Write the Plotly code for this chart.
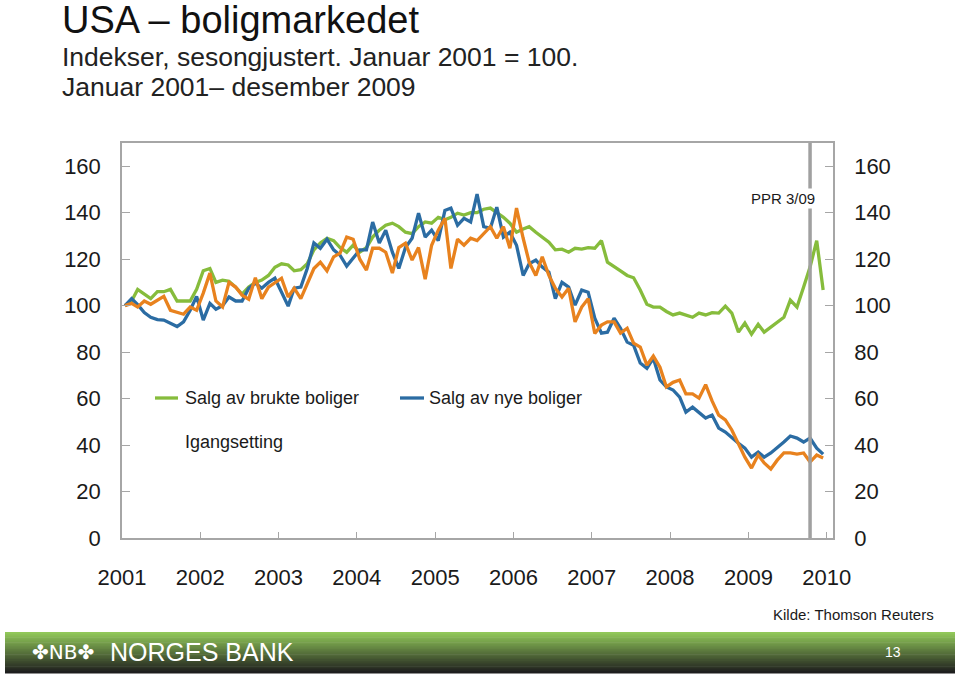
import plotly.graph_objects as go
import pandas as pd

# Monthly data, Jan 2001 - Dec 2009, index Jan 2001 = 100
months = pd.date_range("2001-01-01", periods=108, freq="MS") + pd.Timedelta(days=14)

brukte = [100, 102, 107, 105, 103, 106, 106, 107, 102, 102,
          102, 107, 115, 116, 110, 111, 110.5, 108, 105, 108,
          110, 111, 113, 116.5, 118, 117.5, 115, 115.5, 118, 124,
          127, 129, 128, 125, 123, 126, 123, 125, 129.5, 132.5,
          134.6, 135.5, 134, 131.6, 131, 134, 136, 135.5, 138, 137,
          138, 139.8, 139, 140, 140, 141.5, 142, 140, 138, 135.5,
          131.6, 133, 134, 131.6, 129.5, 127.3, 124, 124.3, 123, 124.7,
          124.3, 125, 124.7, 128, 118.7, 116.6, 115, 113, 112, 106.7,
          100.6, 99.4, 99.4, 97.5, 96, 96.8, 96, 95, 96.8, 96,
          97, 96.8, 99.8, 96.8, 88.6, 92.5, 87.7, 92, 88.6, 90.8,
          92.5, 95, 102.4, 99.4, 108, 116.6, 128, 106.7]

nye = [100, 103, 100.4, 97, 95, 94, 93.8, 92.5, 91, 93,
       98, 104, 93.8, 101, 98.5, 100, 103.7, 102, 102, 107.5,
       109.7, 107.5, 110, 111.8, 106, 99.8, 107.5, 108, 116, 127,
       124.7, 128.6, 124, 121.7, 117, 120.4, 124, 124, 136, 127,
       132.5, 123, 116, 125, 129, 139.8, 129.5, 132.5, 128, 141,
       142, 134.6, 137.6, 136, 148, 134, 133.3, 142.4, 129.5, 131.6,
       126, 113, 118, 119.6, 116.6, 114.4, 103, 110, 108, 100.2,
       106.7, 105.8, 94.6, 88.2, 88.6, 94.6, 90.3, 84.3, 83, 75.3,
       73, 77.4, 68, 65, 63.7, 60.6, 54.2, 56.3, 54.2, 51.6,
       52.9, 47.3, 45.6, 43, 40.8, 38.7, 34.8, 37, 34.8, 36.6,
       38.7, 41.3, 43.9, 43, 41.3, 43, 38.7, 36.1]

igangsetting = [100, 101, 99.4, 102, 100.6, 102.4, 104, 98, 97, 96.3,
                99.4, 98, 105.4, 114, 102, 99.4, 110, 108, 104.5, 102.8,
                112, 103, 108, 110, 111.8, 103.7, 107.5, 103, 109.7, 116,
                118.7, 115, 121, 122.6, 129.5, 128.6, 120, 115.3, 124.7, 124.7,
                123, 114, 125, 126.9, 119.6, 125, 111.4, 126, 132.5, 137.6,
                116, 128.6, 126, 129, 128, 131, 134, 129, 134, 124.7,
                142, 129, 118.7, 113, 121, 113, 107.5, 103.7, 107.5, 93,
                99.4, 103, 88, 91.6, 93, 93, 88.2, 90.3, 83.9, 82.2,
                74.4, 78.3, 73.5, 65, 67, 68, 62, 62, 60.2, 66,
                59, 52.9, 50.8, 46.5, 40.8, 34.8, 30.1, 35.7, 32.3, 29.7,
                33.5, 36.6, 36.6, 36.1, 36.6, 32.7, 35.7, 34.4]

year_ticks = [f"{y}-01-01" for y in range(2001, 2011)]
year_labels = [str(y) for y in range(2001, 2011)]
y_ticks = [0, 20, 40, 60, 80, 100, 120, 140, 160]
ppr_date = "2009-10-15"

c_green = "#86bc3c"
c_blue = "#2b6ca3"
c_orange = "#e8821e"
axis_grey = "#a6a6a6"
font = "Liberation Sans, Arial, sans-serif"

# plot area in pixels: x 122..833, y 143..538
def px(x):
    return (x - 122) / 711

def py(y):
    return (538 - y) / 395

fig = go.Figure()
fig.add_scatter(x=months, y=brukte, mode="lines", line=dict(color=c_green, width=3.3), yaxis="y")
fig.add_scatter(x=months, y=nye, mode="lines", line=dict(color=c_blue, width=3.3), yaxis="y")
fig.add_scatter(x=months, y=igangsetting, mode="lines", line=dict(color=c_orange, width=3.3), yaxis="y2")

yax = dict(
    range=[0, 170], tickvals=y_ticks, showgrid=False, zeroline=False,
    showline=True, linecolor=axis_grey, linewidth=1.5,
    ticks="inside", ticklen=8, tickcolor=axis_grey, tickwidth=1.2,
    tickfont=dict(size=22, color="#1a1a1a", family=font),
    ticklabelstandoff=15, fixedrange=True,
)

fig.update_layout(
    width=960, height=675,
    margin=dict(l=122, r=127, t=143, b=137),
    paper_bgcolor="white", plot_bgcolor="white",
    showlegend=False,
    font=dict(family=font, color="#1a1a1a"),
    xaxis=dict(
        type="date", range=["2001-01-01", "2010-01-30"],
        tickvals=year_ticks, ticktext=year_labels,
        showgrid=False, zeroline=False, showline=True, mirror=True,
        linecolor=axis_grey, linewidth=1.5,
        ticks="inside", ticklen=6, tickcolor=axis_grey,
        tickfont=dict(size=22, color="#1a1a1a", family=font),
        ticklabelstandoff=19, fixedrange=True,
    ),
    yaxis=yax,
    yaxis2=dict(yax, overlaying="y", side="right"),
)

def note(text, x, y, size, color="#1a1a1a", xanchor="left", family=None, **kw):
    f = dict(size=size, color=color)
    if family:
        f["family"] = family
    fig.add_annotation(text=text, xref="paper", yref="paper", x=x, y=y,
                       xanchor=xanchor, yanchor="middle", showarrow=False, font=f, **kw)

# PPR marker
fig.add_shape(type="line", xref="x", yref="paper", x0=ppr_date, x1=ppr_date, y0=0, y1=1,
              line=dict(color="#a0a0a0", width=3.5))
note("PPR 3/09", px(783), py(198), 15, xanchor="center", bgcolor="white")

# Legend (drawn by hand, as in the slide)
fig.add_shape(type="line", xref="paper", yref="paper", x0=px(155), x1=px(178), y0=py(398), y1=py(398),
              line=dict(color=c_green, width=3.3))
fig.add_shape(type="line", xref="paper", yref="paper", x0=px(400), x1=px(424), y0=py(398), y1=py(398),
              line=dict(color=c_blue, width=3.3))
note("Salg av brukte boliger", px(183), py(398), 18)
note("Salg av nye boliger", px(427), py(398), 18)
note("Igangsetting", px(183), py(442), 18)

# Titles
note("USA – boligmarkedet", px(60), py(20), 38, color="#111111")
note("Indekser, sesongjustert. Januar 2001 = 100.", px(60), py(57), 26.5, color="#222222")
note("Januar 2001– desember 2009", px(60), py(87), 26.5, color="#222222")

# Source
note("Kilde: Thomson Reuters", px(936), py(614), 15, xanchor="right")

# Footer band with vertical gradient green -> dark
top_px, bot_px = 632, 673
n = 24
c0 = (146, 200, 90)
c1 = (30, 30, 30)
for i in range(n):
    t = i / (n - 1)
    col = tuple(int(c0[k] + (c1[k] - c0[k]) * t) for k in range(3))
    ya = top_px + (bot_px - top_px) * i / n
    yb = top_px + (bot_px - top_px) * (i + 1) / n + 0.6
    fig.add_shape(type="rect", xref="paper", yref="paper",
                  x0=px(5), x1=px(955), y0=py(ya), y1=py(yb),
                  line=dict(width=0), fillcolor=f"rgb{col}", layer="below")

note("✤NB✤", px(30), py(652), 20, color="white", family="DejaVu Sans")
note("NORGES BANK", px(108), py(652), 25, color="white",
     family="Liberation Sans Narrow, Liberation Sans")
note("13", px(893), py(652), 14, color="white", xanchor="center")

fig.write_html("out.html", config={"displayModeBar": False},
               post_script="document.body.style.margin='0';")
